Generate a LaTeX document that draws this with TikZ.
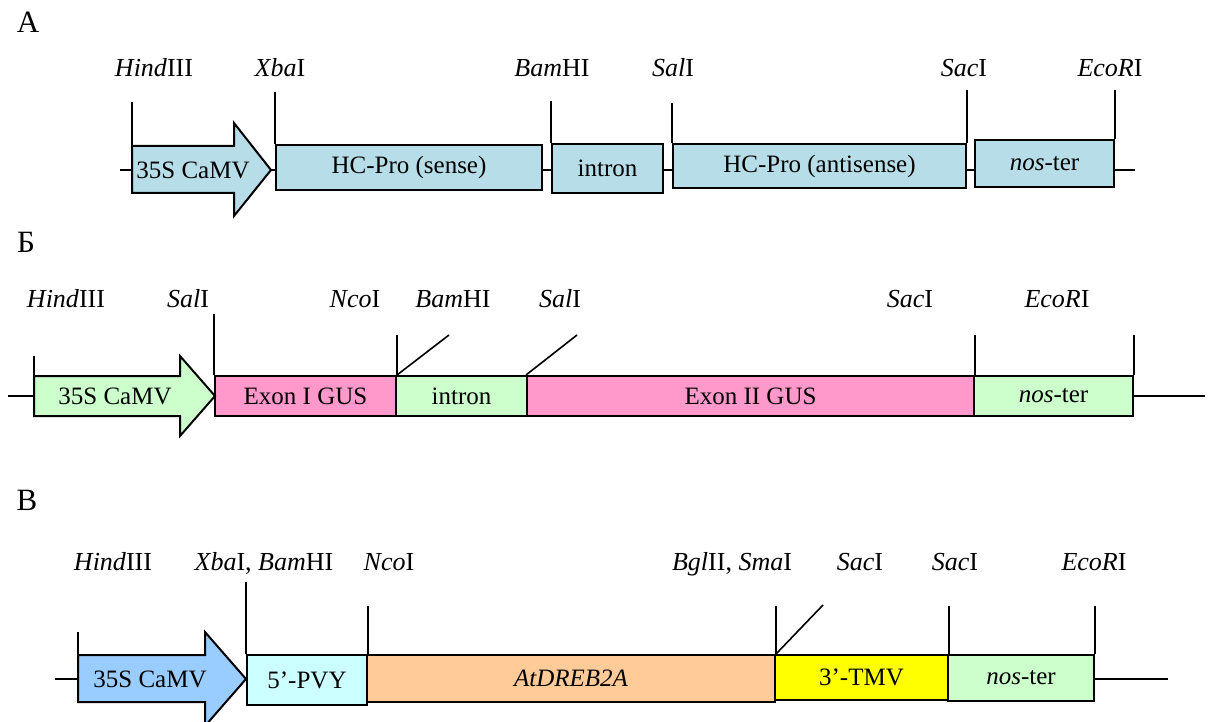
\documentclass[tikz,border=0pt]{standalone}
\usepackage{fontspec}
\setmainfont{Liberation Serif}
\definecolor{hcfill}{HTML}{B7DEE8}
\definecolor{gusfill}{HTML}{FF99CC}
\definecolor{grfill}{HTML}{CCFFCC}
\definecolor{prfill}{HTML}{99CCFF}
\definecolor{pvyfill}{HTML}{CCFFFF}
\definecolor{drfill}{HTML}{FFCC99}
\definecolor{tmvfill}{HTML}{FFFF00}

\begin{document}
\begin{tikzpicture}[
  x=1pt, y=-1pt,
  seg/.style={draw=black, line width=2pt, inner sep=0pt,
              font=\fontsize{25}{30}\selectfont},
  prom/.style={draw=black, line width=2pt, line join=miter},
  dna/.style={draw=black, line width=1.6pt},
  site/.style={draw=black, line width=1.6pt},
  btxt/.style={inner sep=0pt, font=\fontsize{25}{30}\selectfont},
  slab/.style={anchor=base, inner sep=0pt, font=\fontsize{26}{31}\selectfont},
  plab/.style={anchor=base, inner sep=0pt, font=\fontsize{31}{36}\selectfont}
]
\useasboundingbox (0,0) rectangle (1210,722);

% --- panel A: HC-Pro hairpin
\node[plab] (la) at (28,33) {А};
\coordinate (a0) at (120,170);
\coordinate (a1) at (1135,170);
\node[seg, fill=hcfill, minimum width=266pt, minimum height=45pt] (hcs) at (409,167.5) {HC-Pro (sense)};
\node[seg, fill=hcfill, minimum width=111pt, minimum height=49pt] (inta) at (607.5,168.5) {intron};
\node[seg, fill=hcfill, minimum width=293pt, minimum height=44pt] (hca) at (819.5,166) {HC-Pro (antisense)};
\node[seg, fill=hcfill, minimum width=139pt, minimum height=47pt] (nosa) at (1044.5,163.5) {\textit{nos}-ter};
\draw[dna] (a0) -- (132,170);
\draw[dna] (271,170) -- (hcs.west |- a0);
\draw[dna] (hcs.east |- a0) -- (inta.west |- a0);
\draw[dna] (inta.east |- a0) -- (hca.west |- a0);
\draw[dna] (hca.east |- a0) -- (nosa.west |- a0);
\draw[dna] (nosa.east |- a0) -- (a1);
\draw[prom, fill=hcfill] (132,146) coordinate (pat) -- (234,146) -- (234,123)
  -- (271,170) coordinate (pah) -- (234,216) -- (234,193) -- (132,193) -- cycle;
\node[btxt] (pa) at (193,170) {35S CaMV};
\draw[site] (pat) -- ++(0,-44) coordinate (ta1);
\draw[site] (hcs.north west) -- ++(0,-52) coordinate (ta2);
\draw[site] (inta.north west) -- ++(0,-42) coordinate (ta3);
\draw[site] (hca.north west) -- ++(0,-40) coordinate (ta4);
\draw[site] (hca.north east) -- ++(0,-53) coordinate (ta5);
\draw[site] (nosa.north east) -- ++(0,-49) coordinate (ta6);
\node[slab] at (154,77) {\textit{Hind}III};
\node[slab] at (280,77) {\textit{Xba}I};
\node[slab] at (552,77) {\textit{Bam}HI};
\node[slab] at (673,77) {\textit{Sal}I};
\node[slab] at (964,77) {\textit{Sac}I};
\node[slab] at (1110,77) {\textit{EcoR}I};

% --- panel B: GUS with intron
\node[plab] (lb) at (26,252) {Б};
\coordinate (b0) at (8,396);
\coordinate (b1) at (1205,396);
\node[seg, fill=gusfill, minimum width=181pt, minimum height=40pt] (ex1) at (305.5,396) {Exon I GUS};
\node[seg, fill=grfill, minimum width=131pt, minimum height=40pt] (intb) at (461.5,396) {intron};
\node[seg, fill=gusfill, minimum width=447pt, minimum height=40pt] (ex2) at (750.5,396) {Exon II GUS};
\node[seg, fill=grfill, minimum width=159pt, minimum height=40pt] (nosb) at (1053.5,396) {\textit{nos}-ter};
\draw[dna] (b0) -- (34,396);
\draw[dna] (nosb.east |- b0) -- (b1);
\draw[prom, fill=grfill] (34,376) coordinate (pbt) -- (180,376) -- (180,356)
  -- (215,396) coordinate (pbh) -- (180,436) -- (180,416) -- (34,416) -- cycle;
\node[btxt] (pb) at (115,396) {35S CaMV};
\draw[site] (pbt) -- ++(0,-20) coordinate (tb1);
\draw[site] (ex1.north west) -- ++(0,-61) coordinate (tb2);
\draw[site] (ex1.north east) -- ++(0,-40) coordinate (tb3);
\draw[site] (ex1.north east) -- ++(52,-40) coordinate (tb4);
\draw[site] (ex2.north west) -- ++(51,-40) coordinate (tb5);
\draw[site] (ex2.north east) -- ++(0,-40) coordinate (tb6);
\draw[site] (nosb.north east) -- ++(0,-40) coordinate (tb7);
\node[slab] at (66,307) {\textit{Hind}III};
\node[slab] at (188,307) {\textit{Sal}I};
\node[slab] at (355,307) {\textit{Nco}I};
\node[slab] at (453,307) {\textit{Bam}HI};
\node[slab] at (560,307) {\textit{Sal}I};
\node[slab] at (910,307) {\textit{Sac}I};
\node[slab] at (1057,307) {\textit{EcoR}I};

% --- panel C: AtDREB2A cassette
\node[plab] (lc) at (27,510) {В};
\coordinate (c0) at (55,679);
\coordinate (c1) at (1168,679);
\node[seg, fill=pvyfill, minimum width=120pt, minimum height=50pt] (pvy) at (307,680) {5’-PVY};
\node[seg, fill=drfill, minimum width=408pt, minimum height=47pt] (dreb) at (571,678.5) {\textit{AtDREB2A}};
\node[seg, fill=tmvfill, minimum width=173pt, minimum height=45pt] (tmv) at (861.5,677.5) {3’-TMV};
\node[seg, fill=grfill, minimum width=146pt, minimum height=46pt] (nosc) at (1021,678) {\textit{nos}-ter};
\draw[dna] (c0) -- (78,679);
\draw[dna] (nosc.east |- c0) -- (c1);
\draw[prom, fill=prfill] (78,655) coordinate (pct) -- (205,655) -- (205,632)
  -- (246,679) coordinate (pch) -- (205,726) -- (205,702) -- (78,702) -- cycle;
\node[btxt] (pc) at (150,679) {35S CaMV};
\draw[site] (pct) -- ++(0,-23) coordinate (tc1);
\draw[site] (pvy.north west) -- ++(0,-72) coordinate (tc2);
\draw[site] (pvy.north east) -- ++(0,-48) coordinate (tc3);
\draw[site] (dreb.north east) -- ++(0,-48) coordinate (tc4);
\draw[site] (dreb.north east) -- ++(47,-49) coordinate (tc5);
\draw[site] (tmv.north east) -- ++(0,-48) coordinate (tc6);
\draw[site] (nosc.north east) -- ++(0,-48) coordinate (tc7);
\node[slab] at (113,570) {\textit{Hind}III};
\node[slab] at (264,570) {\textit{Xba}I, \textit{Bam}HI};
\node[slab] at (389,570) {\textit{Nco}I};
\node[slab] at (732,570) {\textit{Bgl}II, \textit{Sma}I};
\node[slab] at (860,570) {\textit{Sac}I};
\node[slab] at (955,570) {\textit{Sac}I};
\node[slab] at (1094,570) {\textit{EcoR}I};
\end{tikzpicture}
\end{document}
